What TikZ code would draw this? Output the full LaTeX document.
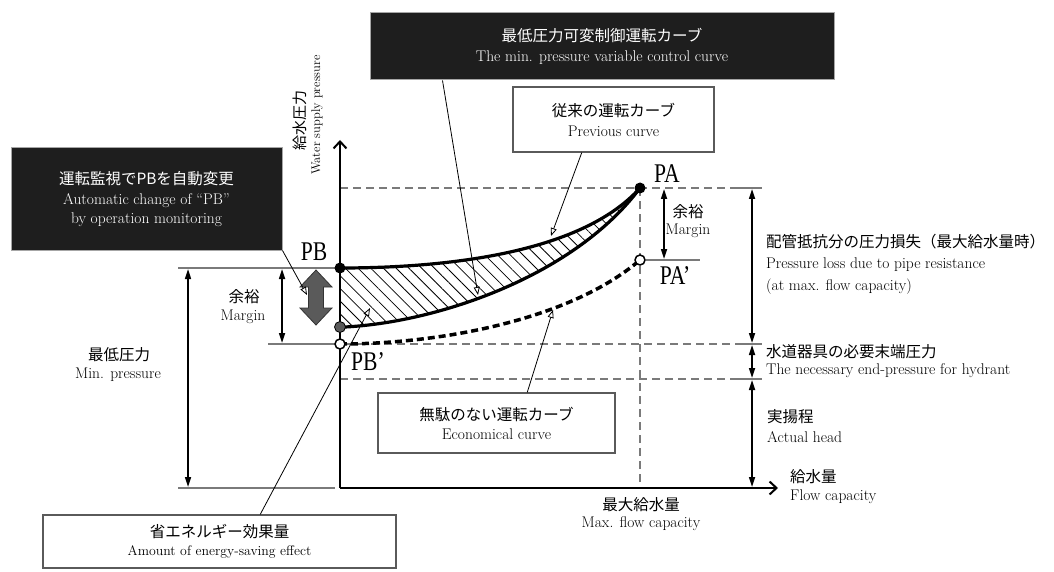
\documentclass[tikz,border=0pt]{standalone}
\usepackage{fontspec}
\newfontfamily\jp{Noto Sans CJK JP}
\newfontfamily\labfont{Liberation Serif}
\usetikzlibrary{arrows.meta,patterns.meta,calc}
\definecolor{boxblack}{HTML}{1E1E1E}
\definecolor{guide}{HTML}{7A7A7A}
\definecolor{markgrey}{HTML}{5A5A5A}
\begin{document}
\begin{tikzpicture}[x=1pt,y=-1pt,
  blackbox/.style={draw=gray!70, line width=1pt, fill=boxblack, text=white, align=center, inner sep=0pt, font=\fontsize{15.5}{21}\selectfont},
  whitebox/.style={draw=markgrey, line width=1.2pt, fill=white, align=center, inner sep=0pt, font=\fontsize{15.5}{21}\selectfont},
  entext/.style={inner sep=0pt, font=\fontsize{15.5}{18}\selectfont},
  jptext/.style={inner sep=0pt, font=\jp\fontsize{15.5}{18}\selectfont},
  axtext/.style={inner sep=0pt, font=\fontsize{12.5}{14}\selectfont, rotate=90},
  ptlabel/.style={inner sep=0pt, font=\labfont\fontsize{27}{27}\selectfont},
  guideline/.style={guide, line width=1.3pt, dash pattern=on 8pt off 5pt},
  tickline/.style={guide, line width=1.2pt},
  dimarrow/.style={line width=1.6pt, {Triangle[length=10pt,width=6pt]}-{Triangle[length=10pt,width=6pt]}},
  leader/.style={line width=0.8pt, -{Triangle[open,length=8pt,width=6pt]}},
  axisline/.style={line width=2pt, -{Straight Barb[length=7pt,width=13pt,line width=2pt]}},
  curveline/.style={line width=3.2pt},
  dotfilled/.style={circle, fill=black, inner sep=0pt, minimum size=11pt},
  dotgrey/.style={circle, fill=markgrey, draw=black, line width=0.8pt, inner sep=0pt, minimum size=11pt},
  dotopen/.style={circle, fill=white, draw=black, line width=1.5pt, inner sep=0pt, minimum size=10pt}
]
\useasboundingbox (0,0) rectangle (1054,572);

% key coordinates
\coordinate (cA) at (640,188);
\coordinate (cAp) at (640,260);
\coordinate (cB) at (340,268);
\coordinate (cBm) at (345,327);
\coordinate (cBp) at (340,344);
\coordinate (origin) at (340,488);
\coordinate (yend) at (340,140);
\coordinate (xend) at (778,488);

% hatched region
\path[pattern={Lines[angle=-45,distance=9pt,line width=0.8pt]}]
  (cB) .. controls (440,268) and (580,255) .. (cA)
  .. controls (575,275) and (440,322) .. (cBm) -- (340,327) -- cycle;

% guide lines
\coordinate (g1a) at (340,188); \coordinate (g1b) at (735,188); \coordinate (g1c) at (762,188);
\coordinate (g2a) at (345,344); \coordinate (g2b) at (735,344); \coordinate (g2c) at (762,344);
\coordinate (g3a) at (340,379); \coordinate (g3b) at (735,379); \coordinate (g3c) at (762,379);
\coordinate (gva) at (640,188); \coordinate (gvb) at (640,488);
\draw[guideline] (g1a) -- (g1b);
\draw[guideline] (g2a) -- (g2b);
\draw[guideline] (g3a) -- (g3b);
\draw[guideline] (gva) -- (gvb);
\draw[tickline] (g1b) -- (g1c);
\draw[tickline] (g2b) -- (g2c);
\draw[tickline] (g3b) -- (g3c);
\coordinate (pa1) at (646,260); \coordinate (pa2) at (700,260);
\draw[tickline] (pa1) -- (pa2);
\coordinate (l1a) at (178,268); \coordinate (l1b) at (335,268);
\coordinate (l2a) at (268,344); \coordinate (l2b) at (335,344);
\coordinate (l3a) at (178,488); \coordinate (l3b) at (335,488);
\draw[tickline] (l1a) -- (l1b);
\draw[tickline] (l2a) -- (l2b);
\draw[tickline] (l3a) -- (l3b);

% curves
\draw[curveline] (cB) .. controls (440,268) and (580,255) .. (cA);
\draw[curveline] (cBm) .. controls (440,322) and (575,275) .. (cA);
\draw[curveline, line width=3.5pt, dash pattern=on 7pt off 4pt] (cBp) .. controls (440,344) and (570,320) .. (cAp);

% axes
\draw[axisline] (origin) -- (yend);
\draw[axisline] (origin) -- (xend);

% dimension arrows
\coordinate (dA1) at (752,189); \coordinate (dA2) at (752,343);
\coordinate (dB1) at (752,345); \coordinate (dB2) at (752,378);
\coordinate (dC1) at (752,380); \coordinate (dC2) at (752,487);
\coordinate (mR1) at (664,189); \coordinate (mR2) at (664,259);
\coordinate (mL1) at (282,269); \coordinate (mL2) at (282,343);
\coordinate (mP1) at (188,269); \coordinate (mP2) at (188,487);
\draw[dimarrow] (dA1) -- (dA2);
\draw[dimarrow] (dB1) -- (dB2);
\draw[dimarrow] (dC1) -- (dC2);
\draw[dimarrow] (mR1) -- (mR2);
\draw[dimarrow] (mL1) -- (mL2);
\draw[dimarrow] (mP1) -- (mP2);

% grey double arrow
\draw[fill=markgrey, draw=black!80, line width=0.8pt]
  (316,270) -- (332,287) -- (323.5,287) -- (323.5,308) -- (332,308) -- (316,325)
  -- (300,308) -- (308.5,308) -- (308.5,287) -- (300,287) -- cycle;

% points
\node[dotfilled] (pA) at (cA) {};
\node[dotfilled] (pB) at (cB) {};
\node[dotgrey] (pBm) at (340,327) {};
\node[dotopen] (pAp) at (cAp) {};
\node[dotopen] (pBp) at (cBp) {};

% point labels
\node[ptlabel] (lPA) at (667,174) {\scalebox{0.8}[1]{PA}};
\node[ptlabel] (lPAp) at (675,276) {\scalebox{0.8}[1]{PA’}};
\node[ptlabel] (lPB) at (314,252) {\scalebox{0.8}[1]{PB}};
\node[ptlabel] (lPBp) at (368,362) {\scalebox{0.8}[1]{PB’}};

% boxes
\node[blackbox, minimum width=464pt, minimum height=67pt] (topbox) at (602,46.5)
  {{\jp 最低圧力可変制御運転カーブ}\\[-1pt]The min. pressure variable control curve};
\node[blackbox, minimum width=271pt, minimum height=102pt] (leftbox) at (146.5,199)
  {{\jp 運転監視でPBを自動変更}\\[-1pt]Automatic change of “PB”\\[-2pt]by operation monitoring};
\node[whitebox, minimum width=201pt, minimum height=65pt] (prevbox) at (613.5,119.5)
  {{\jp 従来の運転カーブ}\\[-1pt]Previous curve};
\node[whitebox, minimum width=237pt, minimum height=60pt] (econbox) at (496.5,423)
  {{\jp 無駄のない運転カーブ}\\[-2pt]Economical curve};
\node[whitebox, minimum width=353pt, minimum height=53pt] (energybox) at (219.5,541.5)
  {{\jp 省エネルギー効果量}\\[-3pt]{\fontsize{13.8}{16}\selectfont Amount of energy-saving effect}};

% leaders
\coordinate (tTop) at (478,295);
\coordinate (tPrev) at (551,236);
\coordinate (tLeft) at (307,295);
\coordinate (tEnergy) at (370,308);
\coordinate (tEcon) at (553,310);
\draw[leader] ($(topbox.south west)!0.157!(topbox.south east)$) -- (tTop);
\draw[leader] ($(prevbox.south west)!0.343!(prevbox.south east)$) -- (tPrev);
\draw[leader] (leftbox.south east) -- (tLeft);
\draw[leader] ($(energybox.north west)!0.615!(energybox.north east)$) -- (tEnergy);
\draw[leader] ($(econbox.north west)!0.629!(econbox.north east)$) -- (tEcon);

% axis labels
\node[axtext, font=\jp\fontsize{15}{16}\selectfont] (yjp) at (300,121) {給水圧力};
\node[axtext] (yen) at (317,115) {Water supply pressure};
\node[jptext, anchor=west] (xjp) at (790,477) {給水量};
\node[entext, anchor=west] (xen) at (790,497) {Flow capacity};
\node[jptext] (maxjp) at (641,505) {最大給水量};
\node[entext] (maxen) at (641,524) {Max. flow capacity};

% margins
\node[jptext] (mRjp) at (688,212) {余裕};
\node[entext] (mRen) at (688,231) {Margin};
\node[jptext] (mLjp) at (244,297) {余裕};
\node[entext] (mLen) at (243,317) {Margin};
\node[jptext] (minjp) at (119,355) {最低圧力};
\node[entext] (minen) at (118,375) {Min. pressure};

% right labels
\node[jptext, anchor=west] (r1jp) at (766,242) {配管抵抗分の圧力損失（最大給水量時）};
\node[entext, anchor=west] (r1en) at (766,265) {Pressure loss due to pipe resistance};
\node[entext, anchor=west] (r1en2) at (766,287) {(at max. flow capacity)};
\node[jptext, anchor=west] (r2jp) at (766,352) {水道器具の必要末端圧力};
\node[entext, anchor=west] (r2en) at (766,371) {The necessary end-pressure for hydrant};
\node[jptext, anchor=west] (r3jp) at (767,417) {実揚程};
\node[entext, anchor=west] (r3en) at (767,437) {Actual head};
\end{tikzpicture}
\end{document}
